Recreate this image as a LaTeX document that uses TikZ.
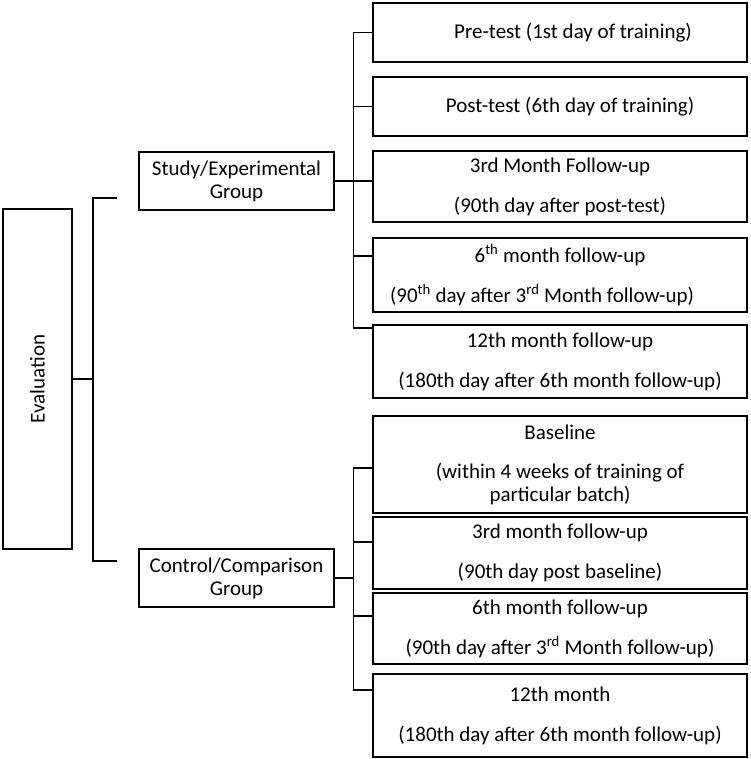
\documentclass[tikz,border=0pt]{standalone}
\usepackage{fontspec}
\setmainfont{Carlito}
\usetikzlibrary{positioning}

\begin{document}
\begin{tikzpicture}[
  x=1pt, y=-1pt,
  line width=1.3pt,
  every node/.style={draw, align=center, inner sep=0pt, outer sep=0pt, font=\fontsize{21}{23}\selectfont},
  groupbox/.style={minimum width=195pt, minimum height=58pt},
  stagebox/.style={minimum width=374pt}
]
\useasboundingbox (0,0) rectangle (750,759);

\node (eval) [rotate=90, minimum width=340pt, minimum height=69pt] at (37.5,379) {Evaluation};
\node (study) [groupbox] at (236.5,181) {Study/Experimental\\Group};
\node (control) [groupbox] at (236.5,578) {Control/Comparison\\Group};

% study group
\node (pre) [stagebox, minimum height=59pt] at (560,32.5) {\hspace*{26pt}Pre-test (1st day of training)};
\node (post) [stagebox, minimum height=59pt, below=15pt of pre] {\hspace*{20pt}Post-test (6th day of training)};
\node (m3) [stagebox, minimum height=71pt, below=15pt of post] {3rd Month Follow-up\\[17pt](90th day after post-test)};
\node (m6) [stagebox, minimum height=74pt, below=16pt of m3] {6\textsuperscript{th} month follow-up\\[17pt](90\textsuperscript{th} day after 3\textsuperscript{rd} Month follow-up)\hspace*{36pt}};
\node (m12) [stagebox, minimum height=73pt, below=13pt of m6] {12th month follow-up\\[17pt](180th day after 6th month follow-up)};

% control group
\node (base) [stagebox, minimum height=97pt] at (560,464.5) {Baseline\\[16pt](within 4 weeks of training of\\particular batch)};
\node (cm3) [stagebox, minimum height=72pt, below=4pt of base] {3rd month follow-up\\[17pt](90th day post baseline)};
\node (cm6) [stagebox, minimum height=71pt, below=4pt of cm3] {6th month follow-up\\[17pt](90th day after 3\textsuperscript{rd} Month follow-up)};
\node (cm12) [stagebox, minimum height=83pt, below=10pt of cm6] {12th month\\[17pt](180th day after 6th month follow-up)};

\coordinate (studystub) at (117,198);
\coordinate (controlstub) at (117,561);

\draw (eval.south) -- ++(21,0);
\draw (studystub) -- ++(-24,0) |- (controlstub);

\foreach \stage/\dy in {pre/0, post/0, m3/5.5, m6/19, m12/33.5}
  \draw (study.east) -- ++(19.5,0) |- ([yshift=\dy pt]\stage.west);
\foreach \stage/\dy in {base/-3.5, cm3/11, cm6/12.5, cm12/25.5}
  \draw (control.east) -- ++(19.5,0) |- ([yshift=\dy pt]\stage.west);
\end{tikzpicture}
\end{document}
